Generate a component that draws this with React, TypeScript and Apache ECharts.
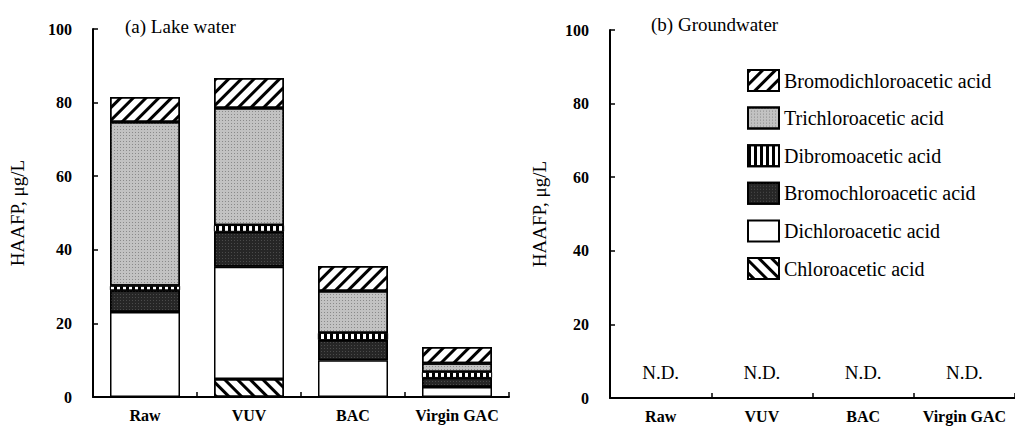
import React, { useEffect, useRef } from "react";
import * as echarts from "echarts";

const categories = ["Raw", "VUV", "BAC", "Virgin GAC"];
const seriesNames = [
  "Chloroacetic acid",
  "Dichloroacetic acid",
  "Bromochloroacetic acid",
  "Dibromoacetic acid",
  "Trichloroacetic acid",
  "Bromodichloroacetic acid",
];
const chloroacetic = [0, 4.9, 0, 0];
const dichloroacetic = [23.1, 30.5, 10, 2.7];
const bromochloroacetic = [5.9, 9.5, 5.5, 2.5];
const dibromoacetic = [1.2, 1.8, 1.9, 1.6];
const trichloroacetic = [44.5, 31.8, 11.4, 2.4];
const bromodichloroacetic = [6.8, 8.2, 6.8, 4.4];
const groundwater = [0, 0, 0, 0];
const ndLabel = "N.D.";
const yTicks = { min: 0, max: 100, interval: 20 };
const legendOrder = [
  "Bromodichloroacetic acid",
  "Trichloroacetic acid",
  "Dibromoacetic acid",
  "Bromochloroacetic acid",
  "Dichloroacetic acid",
  "Chloroacetic acid",
];

const SERIF = "'Liberation Serif', 'Times New Roman', serif";

export default function App() {
  const ref = useRef<HTMLDivElement>(null);
  useEffect(() => {
    if (!ref.current) return;
    const chart = echarts.init(ref.current, undefined, { renderer: "svg" });

    const hatch = (rot: number) => ({
      symbol: "rect",
      symbolSize: 1,
      dashArrayX: [1, 0],
      dashArrayY: [3, 5.5],
      rotation: rot,
      color: "#000",
    });

    const styles: any[] = [
      { color: "#fff", decal: hatch(Math.PI / 4) },
      { color: "#fff" },
      {
        color: "#262626",
        decal: {
          symbol: "rect",
          symbolSize: 1,
          dashArrayX: [1, 2],
          dashArrayY: [1, 2],
          color: "#4a4a4a",
        },
      },
      {
        color: "#fff",
        decal: {
          symbol: "rect",
          symbolSize: 1,
          dashArrayX: [3, 2.5],
          dashArrayY: [1, 0],
          color: "#000",
        },
      },
      {
        color: "#c2c2c2",
        decal: {
          symbol: "rect",
          symbolSize: 1,
          dashArrayX: [1, 2],
          dashArrayY: [1, 2],
          color: "#8a8a8a",
        },
      },
      { color: "#fff", decal: hatch(-Math.PI / 4) },
    ];
    const values = [
      chloroacetic,
      dichloroacetic,
      bromochloroacetic,
      dibromoacetic,
      trichloroacetic,
      bromodichloroacetic,
    ];

    const xAxisBase = (gridIndex: number) => ({
      type: "category",
      gridIndex,
      data: categories,
      axisLine: { show: true, lineStyle: { color: "#000", width: 2 } },
      axisTick: { show: true, inside: true, length: 5, lineStyle: { color: "#000", width: 1.5 } },
      axisLabel: {
        interval: 0,
        color: "#000",
        fontFamily: SERIF,
        fontWeight: "bold",
        fontSize: 16,
        margin: 10,
      },
    });
    const yAxisBase = (gridIndex: number, gap: number) => ({
      type: "value",
      gridIndex,
      min: yTicks.min,
      max: yTicks.max,
      interval: yTicks.interval,
      name: "HAAFP, μg/L",
      nameLocation: "middle",
      nameGap: gap,
      nameTextStyle: { color: "#000", fontFamily: SERIF, fontSize: 19 },
      splitLine: { show: false },
      axisLine: { show: true, lineStyle: { color: "#000", width: 2 } },
      axisTick: { show: true, inside: true, length: 5, lineStyle: { color: "#000", width: 1.5 } },
      axisLabel: {
        color: "#000",
        fontFamily: SERIF,
        fontWeight: "bold",
        fontSize: 16,
        margin: 21,
      },
    });

    const option: any = {
      animation: false,
      backgroundColor: "#fff",
      title: [
        {
          text: "(a) Lake water",
          left: 120,
          top: 12,
          textStyle: { color: "#000", fontFamily: SERIF, fontSize: 19, fontWeight: "normal" },
        },
        {
          text: "(b) Groundwater",
          left: 646,
          top: 10,
          textStyle: { color: "#000", fontFamily: SERIF, fontSize: 19, fontWeight: "normal" },
        },
      ],
      legend: {
        data: legendOrder,
        orient: "vertical",
        left: 742,
        top: 64,
        itemWidth: 31,
        itemHeight: 21,
        itemGap: 14.6,
        icon: "rect",
        itemStyle: { borderColor: "#000", borderWidth: 2 },
        textStyle: { color: "#000", fontFamily: SERIF, fontSize: 20 },
        selectedMode: false,
      },
      grid: [
        { left: 93, top: 29, width: 416, height: 368 },
        { left: 610, top: 30, width: 416, height: 368 },
      ],
      xAxis: [xAxisBase(0), xAxisBase(1)],
      yAxis: [yAxisBase(0, 66), yAxisBase(1, 61)],
      series: [
        ...seriesNames.map((name, i) => ({
          name,
          type: "bar",
          stack: "lake",
          xAxisIndex: 0,
          yAxisIndex: 0,
          barWidth: 70,
          data: values[i],
          itemStyle: { ...styles[i], borderColor: "#000", borderWidth: i === 3 ? 0.8 : 1.5 },
        })),
        {
          name: "Groundwater",
          type: "bar",
          xAxisIndex: 1,
          yAxisIndex: 1,
          barWidth: 70,
          data: groundwater,
          itemStyle: { color: "rgba(0,0,0,0)", borderWidth: 0 },
          label: {
            show: true,
            position: "top",
            distance: 16,
            formatter: () => ndLabel,
            color: "#000",
            fontFamily: SERIF,
            fontSize: 19,
          },
        },
      ],
    };
    chart.setOption(option);
    return () => chart.dispose();
  }, []);
  return (
    <div
      ref={ref}
      style={{ position: "absolute", left: 0, top: 0, width: 1015, height: 426 }}
    />
  );
}
